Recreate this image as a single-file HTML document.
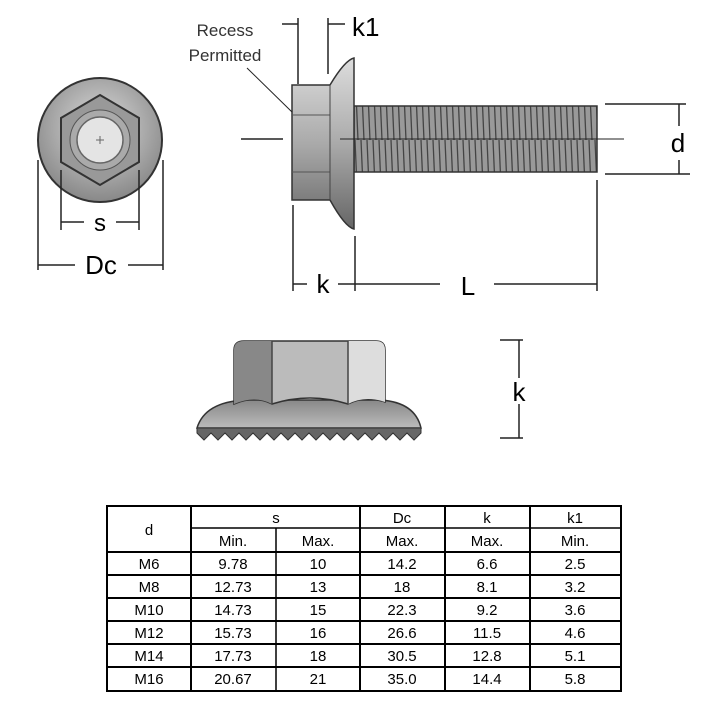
<!DOCTYPE html>
<html><head><style>body{margin:0;background:#fff}svg{display:block}</style></head><body>
<svg width="723" height="706" viewBox="0 0 723 706" xmlns="http://www.w3.org/2000/svg" font-family="Liberation Sans, sans-serif">
<defs>
<linearGradient id="g1" x1="0" y1="0" x2="0" y2="1"><stop offset="0" stop-color="#ddd"/><stop offset="0.5" stop-color="#aaa"/><stop offset="1" stop-color="#666"/></linearGradient>
<linearGradient id="g4" x1="0" y1="0" x2="0" y2="1"><stop offset="0" stop-color="#888"/><stop offset="1" stop-color="#bbb"/></linearGradient>
<radialGradient id="g3" cx="0.5" cy="0.4" r="0.6"><stop offset="0" stop-color="#ddd"/><stop offset="1" stop-color="#888"/></radialGradient>
<pattern id="th" width="6" height="70" patternUnits="userSpaceOnUse"><rect width="6" height="70" fill="#999"/><line x1="1" y1="0" x2="4" y2="70" stroke="#444" stroke-width="1.3"/></pattern>
</defs>
<!-- front view -->
<circle cx="100" cy="140" r="62" fill="url(#g3)" stroke="#333" stroke-width="2"/>
<polygon points="100,95 139,118 139,162 100,185 61,162 61,118" fill="#999" stroke="#333" stroke-width="2"/>
<circle cx="100" cy="140" r="30" fill="#aaa" stroke="#555" stroke-width="1"/>
<circle cx="100" cy="140" r="23" fill="#e4e4e4" stroke="#666" stroke-width="1.5"/>
<line x1="96" y1="140" x2="104" y2="140" stroke="#666"/><line x1="100" y1="136" x2="100" y2="144" stroke="#666"/>
<g stroke="#222" stroke-width="1.5" fill="none">
<line x1="61" y1="170" x2="61" y2="230"/><line x1="139" y1="170" x2="139" y2="230"/>
<line x1="61" y1="222" x2="84" y2="222"/><line x1="116" y1="222" x2="139" y2="222"/>
<line x1="38" y1="160" x2="38" y2="270"/><line x1="163" y1="160" x2="163" y2="270"/>
<line x1="38" y1="265" x2="75" y2="265"/><line x1="128" y1="265" x2="163" y2="265"/>
</g>
<text x="100" y="231" font-size="24" text-anchor="middle">s</text>
<text x="101" y="274" font-size="26" text-anchor="middle">Dc</text>
<!-- side view -->
<rect x="354" y="106" width="243" height="66" fill="url(#th)" stroke="#333" stroke-width="1.5"/>
<path d="M292 85 L330 85 Q345 60 354 58 L354 229 Q345 227 330 200 L292 200 Z" fill="url(#g1)" stroke="#333" stroke-width="1.5"/>
<line x1="292" y1="115" x2="330" y2="115" stroke="#555"/><line x1="292" y1="172" x2="330" y2="172" stroke="#555"/>
<line x1="330" y1="85" x2="330" y2="200" stroke="#444"/>
<g stroke="#222" stroke-width="1.5" fill="none">
<line x1="241" y1="139" x2="283" y2="139"/><line x1="340" y1="139" x2="624" y2="139" stroke-width="1"/>
<line x1="282" y1="24" x2="298" y2="24"/><line x1="298" y1="18" x2="298" y2="84"/>
<line x1="328" y1="18" x2="328" y2="74"/><line x1="328" y1="24" x2="345" y2="24"/>
<line x1="247" y1="68" x2="292" y2="112" stroke-width="1"/>
<line x1="605" y1="104" x2="686" y2="104"/><line x1="605" y1="174" x2="690" y2="174"/>
<line x1="679" y1="104" x2="679" y2="126"/><line x1="679" y1="160" x2="679" y2="174"/>
<line x1="293" y1="205" x2="293" y2="291"/><line x1="355" y1="236" x2="355" y2="291"/><line x1="597" y1="180" x2="597" y2="291"/>
<line x1="293" y1="284" x2="307" y2="284"/><line x1="338" y1="284" x2="440" y2="284"/><line x1="494" y1="284" x2="597" y2="284"/>
</g>
<text x="225" y="36" font-size="17" fill="#333" text-anchor="middle">Recess</text>
<text x="225" y="61" font-size="17" fill="#333" text-anchor="middle">Permitted</text>
<text x="352" y="36" font-size="26">k1</text>
<text x="678" y="152" font-size="26" text-anchor="middle">d</text>
<text x="323" y="293" font-size="26" text-anchor="middle">k</text>
<text x="468" y="295" font-size="26" text-anchor="middle">L</text>
<!-- nut view -->
<path d="M197 428 Q205 402 245 400 L380 400 Q415 402 421 428 Z" fill="url(#g4)" stroke="#333" stroke-width="1.5"/>
<path d="M197 428 L421 428 L421 433 L414 440 L407 433 L400 440 L393 433 L386 440 L379 433 L372 440 L365 433 L358 440 L351 433 L344 440 L337 433 L330 440 L323 433 L316 440 L309 433 L302 440 L295 433 L288 440 L281 433 L274 440 L267 433 L260 440 L253 433 L246 440 L239 433 L232 440 L225 433 L218 440 L211 433 L204 440 L197 433 Z" fill="#666" stroke="#333"/>
<path d="M234 404 L234 350 Q234 341 244 341 L376 341 Q385 341 385 350 L385 402 Q365 395 348 404 Q310 392 272 404 Q255 395 234 404 Z" fill="#bbb" stroke="#333" stroke-width="1.5"/>
<path d="M234 404 L234 350 Q234 341 244 341 L272 341 L272 404 Q255 395 234 404 Z" fill="#888"/>
<path d="M348 341 L376 341 Q385 341 385 350 L385 402 Q365 395 348 404 Z" fill="#ddd"/>
<line x1="272" y1="341" x2="272" y2="404" stroke="#444" stroke-width="1.5"/><line x1="348" y1="341" x2="348" y2="404" stroke="#444" stroke-width="1.5"/>
<g stroke="#222" stroke-width="1.5"><line x1="500" y1="340" x2="523" y2="340"/><line x1="500" y1="438" x2="523" y2="438"/>
<line x1="519" y1="340" x2="519" y2="378"/><line x1="519" y1="404" x2="519" y2="438"/></g>
<text x="519" y="401" font-size="26" text-anchor="middle">k</text>
<!-- table -->
<g stroke="#000" stroke-width="2" fill="none">
<rect x="107" y="506" width="514" height="185"/>
<line x1="191" y1="528" x2="621" y2="528" stroke-width="1.5"/>
<line x1="107" y1="552" x2="621" y2="552"/><line x1="107" y1="575" x2="621" y2="575"/><line x1="107" y1="598" x2="621" y2="598"/>
<line x1="107" y1="621" x2="621" y2="621"/><line x1="107" y1="644" x2="621" y2="644"/><line x1="107" y1="667" x2="621" y2="667"/>
<line x1="191" y1="506" x2="191" y2="691"/><line x1="276" y1="528" x2="276" y2="691" stroke-width="1.5"/>
<line x1="360" y1="506" x2="360" y2="691"/><line x1="445" y1="506" x2="445" y2="691"/><line x1="530" y1="506" x2="530" y2="691"/>
</g>
<g font-size="15" text-anchor="middle">
<text x="149" y="535">d</text><text x="276" y="523">s</text><text x="402" y="523">Dc</text><text x="487" y="523">k</text><text x="575" y="523">k1</text>
<text x="233" y="546">Min.</text><text x="318" y="546">Max.</text><text x="402" y="546">Max.</text><text x="487" y="546">Max.</text><text x="575" y="546">Min.</text>
<text x="149" y="569">M6</text><text x="233" y="569">9.78</text><text x="318" y="569">10</text><text x="402" y="569">14.2</text><text x="487" y="569">6.6</text><text x="575" y="569">2.5</text>
<text x="149" y="592">M8</text><text x="233" y="592">12.73</text><text x="318" y="592">13</text><text x="402" y="592">18</text><text x="487" y="592">8.1</text><text x="575" y="592">3.2</text>
<text x="149" y="615">M10</text><text x="233" y="615">14.73</text><text x="318" y="615">15</text><text x="402" y="615">22.3</text><text x="487" y="615">9.2</text><text x="575" y="615">3.6</text>
<text x="149" y="638">M12</text><text x="233" y="638">15.73</text><text x="318" y="638">16</text><text x="402" y="638">26.6</text><text x="487" y="638">11.5</text><text x="575" y="638">4.6</text>
<text x="149" y="661">M14</text><text x="233" y="661">17.73</text><text x="318" y="661">18</text><text x="402" y="661">30.5</text><text x="487" y="661">12.8</text><text x="575" y="661">5.1</text>
<text x="149" y="684">M16</text><text x="233" y="684">20.67</text><text x="318" y="684">21</text><text x="402" y="684">35.0</text><text x="487" y="684">14.4</text><text x="575" y="684">5.8</text>
</g>
</svg>
</body></html>
